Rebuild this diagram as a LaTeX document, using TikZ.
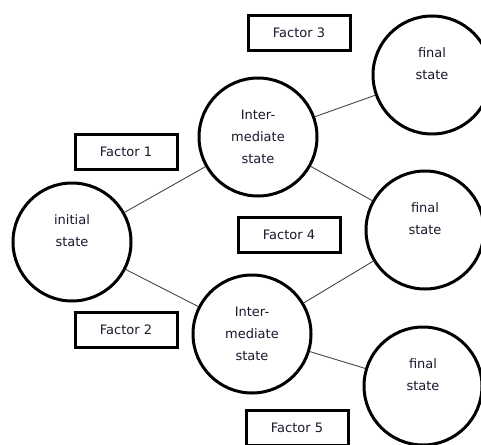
\documentclass[tikz,border=0pt]{standalone}
\usepackage{fontspec}
\setmainfont{DejaVu Sans}
\usepackage{xcolor}
\definecolor{linegray}{RGB}{70,70,70}
\definecolor{txt}{RGB}{25,25,45}

\begin{document}
\begin{tikzpicture}[
  x=1pt,y=-1pt,
  state/.style={circle,draw,line width=3pt,fill=white,text=txt,
                font=\fontsize{13}{22}\selectfont,
                minimum size=118pt,inner sep=0pt,align=center},
  factor/.style={rectangle,draw,line width=3pt,fill=white,text=txt,
                 font=\fontsize{13}{22}\selectfont,
                 minimum width=102pt,minimum height=35pt,inner sep=0pt},
  link/.style={linegray,line width=0.9pt}
]
\useasboundingbox (0,0) rectangle (481,444);
\node[state] (init) at (72,242)  {initial\\state\\{}};
\node[state] (mid1) at (258,137) {Inter-\\mediate\\state};
\node[state] (mid2) at (252,334) {Inter-\\mediate\\state};
\node[state] (fin1) at (432,75)  {final\\state\\{}};
\node[state] (fin2) at (425,230) {final\\state\\{}};
\node[state] (fin3) at (423,386) {final\\state\\{}};
\node[factor] (f1) at (126,152) {Factor 1};
\node[factor] (f2) at (126,330) {Factor 2};
\node[factor] (f3) at (299,33)  {Factor 3};
\node[factor] (f4) at (289,235) {Factor 4};
\node[factor] (f5) at (297,428) {Factor 5};
\draw[link] (init)--(mid1);
\draw[link] (init)--(mid2);
\draw[link] (mid1)--(fin1);
\draw[link] (mid1)--(fin2);
\draw[link] (mid2)--(fin2);
\draw[link] (mid2)--(fin3);
\end{tikzpicture}
\end{document}
